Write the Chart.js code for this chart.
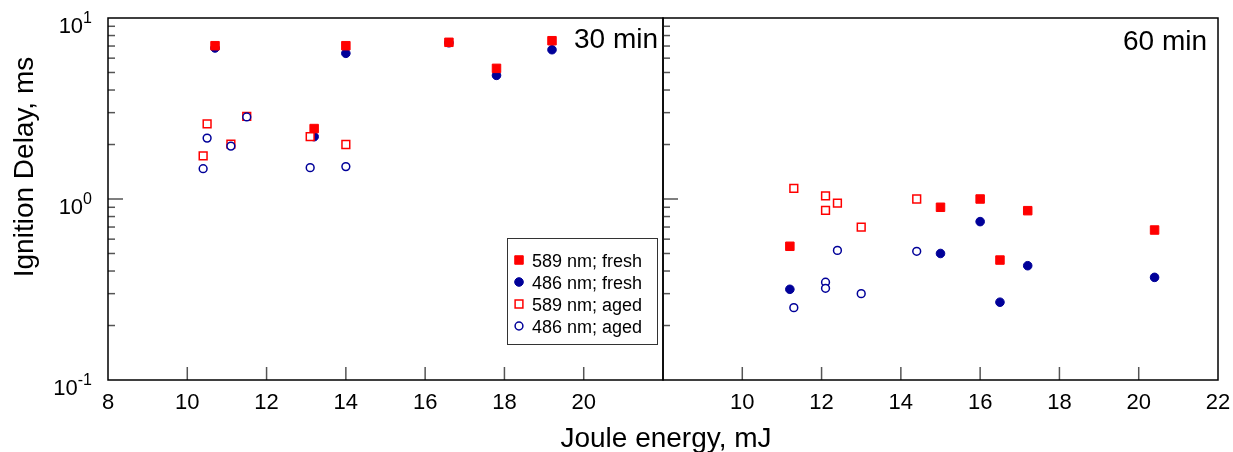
<!DOCTYPE html>
<html>
<head>
<meta charset="utf-8">
<script src="https://cdn.jsdelivr.net/npm/chart.js@4.4.1/dist/chart.umd.min.js"></script>
<style>
  body { margin: 0; background: #fff; }
  #wrap { position: relative; width: 1233px; height: 452px; }
  #wrap canvas { position: absolute; left: 0; top: 0; }
</style>
</head>
<body>
<div id="wrap">
  <canvas id="p30" width="1233" height="452"></canvas>
  <canvas id="p60" width="1233" height="452"></canvas>
</div>
<script>
var FONT = '"Liberation Sans", Arial, sans-serif';
var RED = '#ff0000';
var NAVY = '#000099';

var xTicks = [8, 10, 12, 14, 16, 18, 20, 22];
var yMajor = [0.1, 1, 10];
var yExp = ['-1', '0', '1'];
var seriesNames = ['589 nm; fresh', '486 nm; fresh', '589 nm; aged', '486 nm; aged'];

// 30 min
var e30Fresh = [10.7, 13.2, 14.0, 16.6, 17.8, 19.2];
var d589Fresh30 = [7.03, 2.45, 7.03, 7.34, 5.27, 7.49];
var d486Fresh30 = [6.83, 2.21, 6.38, 7.3, 4.82, 6.68];
var e30Aged = [10.4, 10.5, 11.1, 11.5, 13.1, 14.0];
var d589Aged30 = [1.73, 2.60, 2.01, 2.86, 2.21, 2.00];
var d486Aged30 = [1.47, 2.17, 1.96, 2.84, 1.49, 1.51];

// 60 min
var e60Fresh = [11.2, 15.0, 16.0, 16.5, 17.2, 20.4];
var d589Fresh60 = [0.548, 0.90, 1.0, 0.46, 0.862, 0.674];
var d486Fresh60 = [0.317, 0.50, 0.75, 0.269, 0.428, 0.369];
var e60Aged = [11.3, 12.1, 12.1, 12.4, 13.0, 14.4];
var d589Aged60 = [1.146, 1.04, 0.866, 0.95, 0.70, 1.0];
var d486Aged60 = [0.251, 0.347, 0.321, 0.52, 0.30, 0.514];

// marker styles, same order as seriesNames (lower order = drawn on top)
var STYLES = [
    { pointStyle: 'rect', pointRadius: 6, backgroundColor: RED, borderColor: RED, borderWidth: 1, order: 2 },
    { pointStyle: 'circle', pointRadius: 4.3, backgroundColor: NAVY, borderColor: NAVY, borderWidth: 1, order: 3 },
    { pointStyle: 'rect', pointRadius: 5.5, backgroundColor: '#fff', borderColor: RED, borderWidth: 1.5, order: 1 },
    { pointStyle: 'circle', pointRadius: 3.9, backgroundColor: '#fff', borderColor: NAVY, borderWidth: 1.5, order: 0 }
];

function points(xs, ys) {
    return xs.map(function(x, i) { return { x: x, y: ys[i] }; });
}

function line(ctx, x1, y1, x2, y2) {
    ctx.beginPath();
    ctx.moveTo(x1, y1);
    ctx.lineTo(x2, y2);
    ctx.stroke();
}

// frame, inward ticks, labels and (for the first panel) the legend
function framePlugin(opts) {
    return {
        id: 'frame',
        afterDraw: function(chart) {
            var ctx = chart.ctx;
            var a = chart.chartArea;
            var xs = chart.scales.x, ys = chart.scales.y;
            ctx.save();

            // y ticks on the left edge, pointing inward
            ctx.strokeStyle = '#555';
            ctx.lineWidth = 1.5;
            yMajor.forEach(function(v, k) {
                var y = ys.getPixelForValue(v);
                if (k > 0 && k < yMajor.length - 1) line(ctx, a.left, y, a.left + 15, y);
                if (k < yMajor.length - 1) {
                    for (var m = 2; m <= 9; m++) {
                        var ym = ys.getPixelForValue(v * m);
                        line(ctx, a.left, ym, a.left + 7, ym);
                    }
                }
            });

            // x ticks pointing up from the bottom
            xTicks.forEach(function(v) {
                if (v <= xs.min || v >= xs.max) return;
                var x = xs.getPixelForValue(v);
                line(ctx, x, a.bottom, x, a.bottom - 13);
            });

            // frame
            ctx.strokeStyle = '#000';
            ctx.lineWidth = 1.5;
            ctx.strokeRect(a.left, a.top, a.right - a.left, a.bottom - a.top);

            // x tick labels
            ctx.fillStyle = '#000';
            ctx.font = '22px ' + FONT;
            ctx.textAlign = 'center';
            ctx.textBaseline = 'alphabetic';
            opts.xLabels.forEach(function(v) {
                ctx.fillText(String(v), xs.getPixelForValue(v), a.bottom + 29);
            });

            // panel label
            ctx.font = '28px ' + FONT;
            ctx.textAlign = 'right';
            ctx.fillText(opts.title, a.right - opts.titleInset, a.top + opts.titleBase);

            if (opts.axes) {
                // y tick labels as 10 with superscript exponent
                yMajor.forEach(function(v, k) {
                    var y = ys.getPixelForValue(v);
                    ctx.textAlign = 'right';
                    ctx.font = '16px ' + FONT;
                    var ew = ctx.measureText(yExp[k]).width;
                    ctx.fillText(yExp[k], 92, y + 5);
                    ctx.font = '22px ' + FONT;
                    ctx.fillText('10', 92 - ew, y + 15);
                });

                // axis titles
                ctx.font = '28px ' + FONT;
                ctx.textAlign = 'center';
                ctx.fillText('Joule energy, mJ', 666, 447);
                ctx.save();
                ctx.translate(33, 167);
                ctx.rotate(-Math.PI / 2);
                ctx.fillText('Ignition Delay, ms', 0, 0);
                ctx.restore();

                // legend
                var lx = 507, ly = 238, lw = 150, lh = 106;
                ctx.fillStyle = '#fff';
                ctx.fillRect(lx, ly, lw, lh);
                ctx.strokeStyle = '#333';
                ctx.lineWidth = 1;
                ctx.strokeRect(lx + 0.5, ly + 0.5, lw, lh);
                ctx.font = '18px ' + FONT;
                ctx.textAlign = 'left';
                seriesNames.forEach(function(name, i) {
                    var st = STYLES[i];
                    var ry = 260 + i * 22;
                    ctx.fillStyle = st.backgroundColor;
                    ctx.strokeStyle = st.borderColor;
                    ctx.lineWidth = st.borderWidth;
                    Chart.helpers.drawPoint(ctx, {
                        pointStyle: st.pointStyle, radius: st.pointRadius,
                        rotation: 0, borderWidth: st.borderWidth
                    }, 519, ry);
                    ctx.fillStyle = '#000';
                    ctx.fillText(name, 532, ry + 6.5);
                });
            }
            ctx.restore();
        }
    };
}

function panel(canvasId, left, right, series, opts) {
    var datasets = series.map(function(data, i) {
        return Object.assign({ label: seriesNames[i], data: data, clip: false }, STYLES[i]);
    });
    return new Chart(document.getElementById(canvasId), {
        type: 'scatter',
        data: { datasets: datasets },
        options: {
            responsive: false,
            animation: false,
            events: [],
            layout: { padding: { left: left, right: 1233 - right, top: 18, bottom: 72 } },
            plugins: { legend: { display: false }, tooltip: { enabled: false } },
            scales: {
                x: { type: 'linear', min: 8, max: 22, display: false },
                y: { type: 'logarithmic', min: 0.1, max: 10, display: false }
            }
        },
        plugins: [framePlugin(opts)]
    });
}

panel('p30', 108, 663, [
    points(e30Fresh, d589Fresh30),
    points(e30Fresh, d486Fresh30),
    points(e30Aged, d589Aged30),
    points(e30Aged, d486Aged30)
], { title: '30 min', titleInset: 5, titleBase: 30, xLabels: [8, 10, 12, 14, 16, 18, 20], axes: true });

panel('p60', 663, 1218, [
    points(e60Fresh, d589Fresh60),
    points(e60Fresh, d486Fresh60),
    points(e60Aged, d589Aged60),
    points(e60Aged, d486Aged60)
], { title: '60 min', titleInset: 11, titleBase: 32, xLabels: [10, 12, 14, 16, 18, 20, 22], axes: false });
</script>
</body>
</html>
